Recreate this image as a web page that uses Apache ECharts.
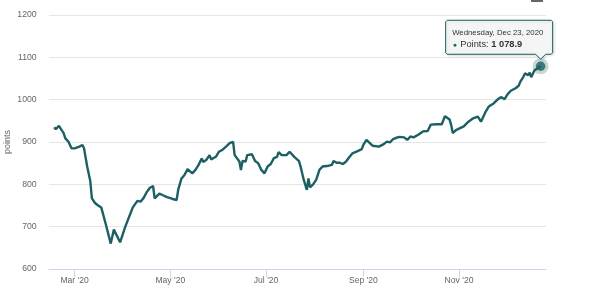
<!DOCTYPE html>
<html>
<head>
<meta charset="utf-8">
<script src="https://cdn.jsdelivr.net/npm/echarts@6/dist/echarts.min.js"></script>
<style>
html,body{margin:0;padding:0;background:#fff;}
#chart{width:600px;height:293px;}
</style>
</head>
<body>
<div id="chart"></div>
<script>
// ---- data ----
const dates = [
'2020-02-17','2020-02-18','2020-02-20','2020-02-21','2020-02-23','2020-02-24','2020-02-25','2020-02-26','2020-02-27','2020-02-28',
'2020-03-01','2020-03-04','2020-03-06','2020-03-07','2020-03-09','2020-03-10','2020-03-11','2020-03-12','2020-03-14','2020-03-16',
'2020-03-18','2020-03-21','2020-03-24','2020-03-26','2020-03-27','2020-03-30','2020-04-02','2020-04-07','2020-04-10','2020-04-12',
'2020-04-14','2020-04-16','2020-04-18','2020-04-20','2020-04-21','2020-04-24','2020-04-27','2020-04-29','2020-05-02','2020-05-05',
'2020-05-06','2020-05-08','2020-05-10','2020-05-12','2020-05-15','2020-05-17','2020-05-19','2020-05-21','2020-05-22','2020-05-24',
'2020-05-26','2020-05-27','2020-05-30','2020-06-01','2020-06-03','2020-06-06','2020-06-08','2020-06-10','2020-06-11','2020-06-14',
'2020-06-15','2020-06-16','2020-06-18','2020-06-19','2020-06-22','2020-06-24','2020-06-26','2020-06-28','2020-06-30','2020-07-02',
'2020-07-04','2020-07-06','2020-07-08','2020-07-09','2020-07-11','2020-07-14','2020-07-16','2020-07-19','2020-07-22','2020-07-23',
'2020-07-25','2020-07-27','2020-07-28','2020-07-29','2020-07-31','2020-08-02','2020-08-04','2020-08-06','2020-08-10','2020-08-12',
'2020-08-13','2020-08-15','2020-08-17','2020-08-19','2020-08-21','2020-08-23','2020-08-25','2020-08-28','2020-08-31','2020-09-01',
'2020-09-03','2020-09-05','2020-09-07','2020-09-11','2020-09-14','2020-09-16','2020-09-18','2020-09-20','2020-09-22','2020-09-24',
'2020-09-27','2020-09-29','2020-10-01','2020-10-03','2020-10-06','2020-10-09','2020-10-12','2020-10-14','2020-10-18','2020-10-21',
'2020-10-23','2020-10-26','2020-10-27','2020-10-28','2020-10-30','2020-11-04','2020-11-07','2020-11-10','2020-11-13','2020-11-15',
'2020-11-18','2020-11-20','2020-11-23','2020-11-26','2020-11-28','2020-11-30','2020-12-02','2020-12-04','2020-12-07','2020-12-09',
'2020-12-10','2020-12-12','2020-12-13','2020-12-15','2020-12-16','2020-12-17','2020-12-19','2020-12-21','2020-12-23'
];
const points = [
935,930,938,932,921,909,910,901,898,885,
885,889,893,885,842,838,807,767,756,750,
745,704,660,693,697,663,697,745,761,759,
768,782,792,796,767,778,773,770,766,763,
787,813,822,836,826,834,846,861,853,858,
869,859,865,877,881,891,898,900,869,854,
834,855,854,869,871,855,850,834,826,842,
848,862,865,876,869,869,877,865,855,842,
811,787,814,793,800,811,834,842,844,846,
855,851,851,848,854,864,873,878,883,893,
905,898,891,889,895,901,899,907,910,912,
911,905,913,911,917,925,926,941,942,942,
961,953,940,921,928,937,948,956,960,948,
972,984,991,1002,1006,1001,1013,1021,1027,1033,
1042,1054,1062,1058,1064,1053,1069,1074,1078.9
];
const xTickLabels = ['2020-03-01','2020-05-01','2020-07-01','2020-09-01','2020-11-01'];
const yTicks = [600,700,800,900,1000,1100,1200];
const xRange = ['2020-02-13T16:00:00Z','2020-12-26T10:00:00Z'];
const seriesName = 'Points';
const yTitle = 'points';

// ---- helpers ----
const toTs = s => (s.length === 10 ? Date.parse(s + 'T00:00:00Z') : Date.parse(s));
const MONTHS = ['Jan','Feb','Mar','Apr','May','Jun','Jul','Aug','Sep','Oct','Nov','Dec'];
const DAYS = ['Sunday','Monday','Tuesday','Wednesday','Thursday','Friday','Saturday'];
const lineData = dates.map((d, i) => [toTs(d), points[i]]);
const last = lineData[lineData.length - 1];
const COLOR = '#1d6063';
const FONT = '"Liberation Sans", Arial, Helvetica, sans-serif';

function fmtNum(v){
  const parts = v.toFixed(1).split('.');
  parts[0] = parts[0].replace(/\B(?=(\d{3})+(?!\d))/g, ' ');
  return parts.join('.');
}

const chart = echarts.init(document.getElementById('chart'), null, {renderer:'canvas'});
chart.setOption({
  animation: false,
  textStyle: {fontFamily: FONT},
  grid: {left: 49, right: 54, top: 15, bottom: 24, containLabel: false, outerBoundsMode: 'none'},
  xAxis: {
    type: 'value',
    min: toTs(xRange[0]),
    max: toTs(xRange[1]),
    splitLine: {show: false},
    axisLine: {show: true, lineStyle: {color: '#ccd6eb', width: 1}},
    axisTick: {show: true, length: 8, lineStyle: {color: '#ccd6eb'}, customValues: xTickLabels.map(toTs)},
    axisLabel: {
      color: '#666', fontSize: 8.6, fontFamily: FONT, margin: 7.5,
      customValues: xTickLabels.map(toTs),
      formatter: v => { const d = new Date(v); return MONTHS[d.getUTCMonth()] + " '" + String(d.getUTCFullYear()).slice(2); }
    }
  },
  yAxis: {
    type: 'value',
    min: yTicks[0], max: yTicks[yTicks.length - 1], interval: 100,
    name: yTitle, nameLocation: 'middle', nameGap: 37, nameMoveOverlap: false,
    nameTextStyle: {color: '#666', fontSize: 9, fontFamily: FONT},
    axisLine: {show: false}, axisTick: {show: false},
    axisLabel: {color: '#666', fontSize: 8.7, fontFamily: FONT, margin: 12.3, formatter: v => String(v)},
    splitLine: {lineStyle: {color: '#e6e6e6', width: 1}}
  },
  series: [
    {
      name: seriesName, type: 'line', data: lineData, showSymbol: false,
      lineStyle: {color: COLOR, width: 2.4}, itemStyle: {color: COLOR},
      silent: true, z: 2
    },
    {
      type: 'scatter', data: [last], symbolSize: 16, silent: true,
      itemStyle: {color: COLOR, opacity: 0.25}, z: 3
    },
    {
      type: 'scatter', data: [last], symbolSize: 9.5, silent: true,
      itemStyle: {color: COLOR}, z: 4
    }
  ]
});

// ---- tooltip callout drawn at the last point ----
const pt = chart.convertToPixel({xAxisIndex: 0, yAxisIndex: 0}, last);
const px = pt[0], py = pt[1];
const L = px - 95, R = px + 12, T = py - 46, B = py - 12, c = 1.5;
const tipY = py - 7;
const callout = [
  [L + c, T], [R - c, T], [R, T + c], [R, B - c], [R - c, B],
  [px + 5, B], [px, tipY], [px - 5, B],
  [L + c, B], [L, B - c], [L, T + c]
];
const ld = new Date(last[0]);
const dateStr = DAYS[ld.getUTCDay()] + ', ' + MONTHS[ld.getUTCMonth()] + ' ' + ld.getUTCDate() + ', ' + ld.getUTCFullYear();

chart.setOption({
  graphic: [
    {
      type: 'rect', x: 531, y: 0, shape: {x: 0, y: 0, width: 12, height: 2}, style: {fill: '#666'}, silent: true
    },
    {
      type: 'polygon', shape: {points: callout}, z: 100, silent: true,
      style: {fill: 'rgba(247,247,247,0.9)', stroke: COLOR, lineWidth: 1,
        shadowColor: 'rgba(0,0,0,0.15)', shadowBlur: 3, shadowOffsetX: 1, shadowOffsetY: 1}
    },
    {
      type: 'text', x: L + 6.5, y: py - 33, z: 101, silent: true,
      style: {text: dateStr, fill: '#333', font: '7.8px ' + FONT, verticalAlign: 'middle', align: 'left'}
    },
    {
      type: 'text', x: L + 7, y: py - 21.7, z: 101, silent: true,
      style: {
        text: '{b|●} {n|' + seriesName + ': }{v|' + fmtNum(last[1]) + '}',
        verticalAlign: 'middle', align: 'left',
        rich: {
          b: {fill: COLOR, fontSize: 7, fontFamily: FONT},
          n: {fill: '#333', fontSize: 9.3, fontFamily: FONT},
          v: {fill: '#333', fontSize: 9.3, fontWeight: 'bold', fontFamily: FONT}
        }
      }
    }
  ]
});
</script>
</body>
</html>
